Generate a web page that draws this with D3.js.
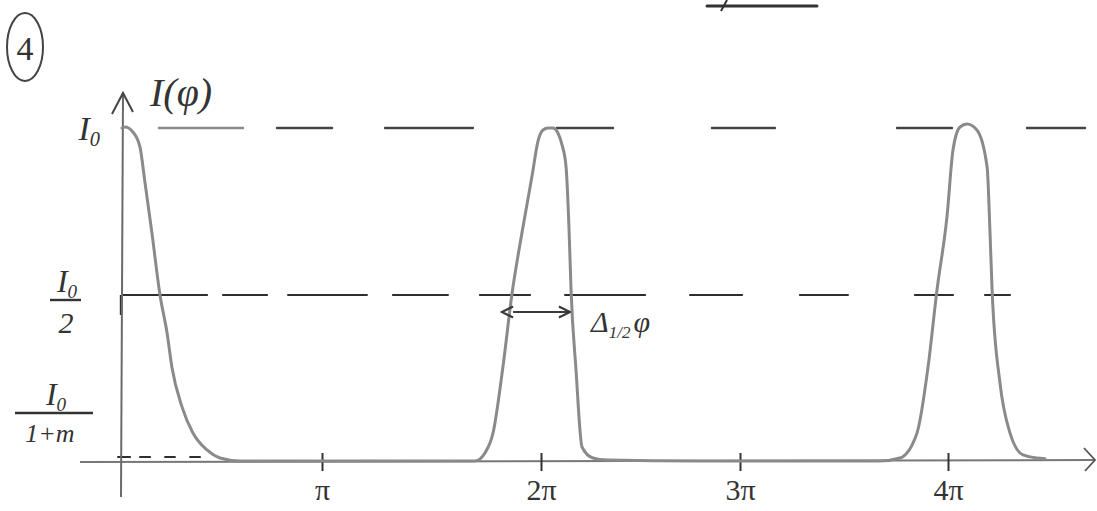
<!DOCTYPE html>
<html>
<head>
<meta charset="utf-8">
<script src="https://cdn.jsdelivr.net/npm/d3@7"></script>
<style>
  html, body { margin: 0; padding: 0; background: #fff; }
  svg { display: block; }
  text { font-family: "Liberation Serif", "DejaVu Serif", serif; fill: #333; }
</style>
</head>
<body>
<svg id="chart" width="1097" height="511"></svg>
<script>
// ---- data (phase in units of π, intensity in units of I0) ----
const curvePhi = [0.010, 0.025, 0.064, 0.099, 0.124, 0.158, 0.198, 0.233, 0.257, 0.307, 0.361, 0.431, 0.495, 0.594, 1.356, 1.699,
  1.744, 1.781, 1.826, 1.868, 1.913, 1.960, 1.986, 2.010, 2.035, 2.060, 2.085, 2.106, 2.126, 2.141, 2.151, 2.176, 2.206, 2.261, 2.332, 2.800, 3.673,
  3.769, 3.851, 3.904, 3.947, 3.995, 4.024, 4.058, 4.091, 4.139, 4.188, 4.202, 4.212, 4.250, 4.298, 4.361, 4.428, 4.466];
const curveI = [1.000, 1.003, 0.988, 0.943, 0.835, 0.686, 0.500, 0.386, 0.284, 0.165, 0.087, 0.036, 0.012, 0.003, 0.003, 0.003,
  0.027, 0.087, 0.284, 0.506, 0.686, 0.860, 0.960, 0.994, 1.000, 1.000, 0.985, 0.949, 0.883, 0.695, 0.515, 0.275, 0.045, 0.012, 0.006, 0.003, 0.003,
  0.012, 0.087, 0.284, 0.515, 0.734, 0.934, 1.003, 1.012, 0.994, 0.883, 0.686, 0.515, 0.236, 0.087, 0.021, 0.012, 0.010];

const xTickValues = [1, 2, 3, 4];              // multiples of π
const xTickLabels = ["π", "2π", "3π", "4π"];

const levelTop = 1.0;       // I0
const levelHalf = 0.5;      // I0/2
const levelMin = 0.015;     // I0/(1+m)

// hand-drawn dash pieces along each level (phase ranges, units of π)
const topDashes = [[0.193, 0.609], [0.777, 1.046], [1.288, 1.689], [2.080, 2.362], [2.859, 3.168], [3.755, 4.019], [4.380, 4.659]];
const halfDashes = [[0.010, 0.431], [0.510, 0.728], [0.832, 1.205], [1.324, 1.575], [1.721, 1.950], [2.121, 2.523],
  [2.749, 3.010], [3.288, 3.519], [3.841, 4.024], [4.178, 4.298]];
const minDashes = [[-0.010, 0.050], [0.099, 0.149], [0.223, 0.272], [0.347, 0.396]];

const fwhmRange = [1.868, 2.151];   // half-width markers on the 2π peak

// ---- scales ----
const svg = d3.select("#chart");
const x = d3.scaleLinear().domain([0, 1, 2, 3, 4]).range([120, 322, 541, 740, 948]);
const y = d3.scaleLinear().domain([0, 1]).range([462, 128]);

const ink = "#3a3a3a";
const grey = "#8a8a8a";

// defs: arrow markers
const defs = svg.append("defs");
["start", "end"].forEach(k => {
  defs.append("marker").attr("id", "arr-" + k)
    .attr("viewBox", "0 0 10 10").attr("refX", k === "end" ? 9 : 1).attr("refY", 5)
    .attr("markerWidth", 7).attr("markerHeight", 7).attr("orient", "auto-start-reverse")
    .append("path").attr("d", "M1,1 L9,5 L1,9").attr("fill", "none").attr("stroke", ink).attr("stroke-width", 1.6);
});

// ---- level dashes ----
function drawDashes(list, level, color, w) {
  svg.append("g").selectAll("line").data(list).join("line")
    .attr("x1", d => x(d[0])).attr("x2", d => x(d[1]))
    .attr("y1", y(level)).attr("y2", y(level))
    .attr("stroke", (d, i) => (level === levelTop && i === 0) ? "#8a8a8a" : color)
    .attr("stroke-width", w).attr("stroke-linecap", "round");
}
drawDashes(topDashes, levelTop, "#444", 2.4);
drawDashes(halfDashes, levelHalf, "#2e2e2e", 2.2);
drawDashes(minDashes, levelMin, "#2e2e2e", 2);
// little corner of half line on the axis
svg.append("line").attr("x1", x(0) + 1).attr("x2", x(0) + 1)
  .attr("y1", y(levelHalf)).attr("y2", y(levelHalf) + 20)
  .attr("stroke", "#2e2e2e").attr("stroke-width", 2.4);

// ---- axes ----
svg.append("line").attr("x1", 80).attr("x2", 1094).attr("y1", y(0)).attr("y2", y(0) - 2)
  .attr("stroke", "#777").attr("stroke-width", 2);
svg.append("path").attr("d", `M1084,${y(0) - 14} L1095,${y(0) - 2} L1085,${y(0) + 9}`)
  .attr("fill", "none").attr("stroke", "#555").attr("stroke-width", 1.8);
svg.append("line").attr("x1", x(0) + 1).attr("x2", x(0) + 3).attr("y1", 497).attr("y2", 94)
  .attr("stroke", "#6a6a6a").attr("stroke-width", 2);
svg.append("path").attr("d", `M${x(0) - 8},114 L${x(0) + 3},93 L${x(0) + 13},112`)
  .attr("fill", "none").attr("stroke", "#444").attr("stroke-width", 2);

// ticks + labels via d3 axis
const xAxis = d3.axisBottom(x).tickValues(xTickValues)
  .tickFormat((d, i) => xTickLabels[i]).tickSize(18).tickPadding(8);
const gx = svg.append("g").attr("transform", `translate(0,${y(0) - 9})`).call(xAxis);
gx.select(".domain").remove();
gx.selectAll(".tick line").attr("stroke", "#333").attr("stroke-width", 2);
gx.selectAll(".tick text").attr("font-size", 30).attr("fill", "#444")
  .style("font-family", "'Liberation Serif', serif");

// ---- the intensity curve ----
const pts = curvePhi.map((p, i) => [p, curveI[i]]);
svg.append("path").datum(pts)
  .attr("d", d3.line().x(d => x(d[0])).y(d => y(d[1])).curve(d3.curveMonotoneX))
  .attr("fill", "none").attr("stroke", grey).attr("stroke-width", 3)
  .attr("stroke-linejoin", "round").attr("stroke-linecap", "round");

// ---- FWHM annotation ----
svg.append("line")
  .attr("x1", x(fwhmRange[0]) + 1).attr("x2", x(fwhmRange[1]) - 1)
  .attr("y1", y(levelHalf) + 17).attr("y2", y(levelHalf) + 17)
  .attr("stroke", ink).attr("stroke-width", 2)
  .attr("marker-start", "url(#arr-start)").attr("marker-end", "url(#arr-end)");
const fw = svg.append("text").attr("x", x(fwhmRange[1]) + 20).attr("y", y(levelHalf) + 37)
  .attr("font-size", 30).attr("font-style", "italic");
fw.append("tspan").text("Δ");
fw.append("tspan").attr("font-size", 17).attr("dy", 6).text("1/2");
fw.append("tspan").attr("dy", -6).attr("dx", 3).text("φ");

// ---- y labels ----
function sub0(g, xx, yy, size, anchor) {
  const t = g.append("text").attr("x", xx).attr("y", yy).attr("font-size", size)
    .attr("font-style", "italic").attr("text-anchor", anchor || "middle");
  t.append("tspan").text("I");
  t.append("tspan").attr("font-size", size * 0.6).attr("dy", size * 0.18).text("0");
  return t;
}
const lab = svg.append("g");
sub0(lab, 100, y(levelTop) + 12, 34, "end");
sub0(lab, 67, y(levelHalf) - 3, 32);
lab.append("line").attr("x1", 50).attr("x2", 81).attr("y1", y(levelHalf) + 5).attr("y2", y(levelHalf) + 5)
  .attr("stroke", "#333").attr("stroke-width", 2.4);
lab.append("text").attr("x", 66).attr("y", y(levelHalf) + 38).attr("font-size", 30)
  .attr("text-anchor", "middle").attr("font-style", "italic").text("2");
sub0(lab, 56, y(levelMin) - 52, 32);
lab.append("line").attr("x1", 15).attr("x2", 93).attr("y1", y(levelMin) - 44).attr("y2", y(levelMin) - 44)
  .attr("stroke", "#333").attr("stroke-width", 2.4);
lab.append("text").attr("x", 50).attr("y", y(levelMin) - 15).attr("font-size", 26)
  .attr("text-anchor", "middle").attr("font-style", "italic").text("1+m");

// axis title
svg.append("text").attr("x", 150).attr("y", 106).attr("font-size", 40).attr("font-style", "italic").text("I(φ)");

// question number
svg.append("ellipse").attr("cx", 25).attr("cy", 47).attr("rx", 18).attr("ry", 34)
  .attr("fill", "none").attr("stroke", "#444").attr("stroke-width", 2);
svg.append("text").attr("x", 25).attr("y", 60).attr("font-size", 34).attr("text-anchor", "middle").text("4");

// remnant stroke at the top edge
svg.append("line").attr("x1", 707).attr("x2", 817).attr("y1", 6).attr("y2", 6)
  .attr("stroke", "#333").attr("stroke-width", 3).attr("stroke-linecap", "round");
svg.append("line").attr("x1", 721).attr("x2", 727).attr("y1", 11).attr("y2", 0)
  .attr("stroke", "#333").attr("stroke-width", 2);
</script>
</body>
</html>
